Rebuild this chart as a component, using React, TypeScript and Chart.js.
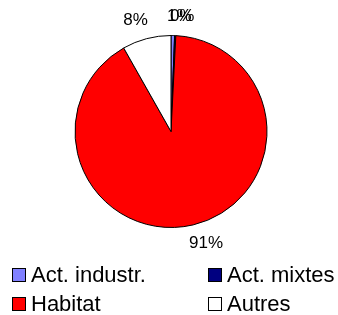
import React, { useEffect, useRef } from "react";
import { Chart, registerables } from "chart.js";

Chart.register(...registerables);

const categories = ["Act. industr.", "Act. mixtes", "Habitat", "Autres"];
const values = [0.6, 0.2, 91.0, 8.2];
const colors = ["#8080FF", "#000080", "#FF0000", "#FFFFFF"];

const labelPlugin = {
  id: "pctLabels",
  afterDatasetsDraw(chart: any) {
    const meta = chart.getDatasetMeta(0);
    const data = chart.data.datasets[0].data as number[];
    const total = data.reduce((a, b) => a + b, 0);
    const ctx = chart.ctx;
    ctx.save();
    ctx.font = "17px 'Liberation Sans', Arial, sans-serif";
    ctx.fillStyle = "#000";
    ctx.textAlign = "center";
    ctx.textBaseline = "middle";
    meta.data.forEach((arc: any, i: number) => {
      const p = arc.getProps(["x", "y", "startAngle", "endAngle", "outerRadius"], true);
      const mid = (p.startAngle + p.endAngle) / 2;
      const txt = Math.round((data[i] / total) * 100) + "%";
      const w = ctx.measureText(txt).width;
      const r = p.outerRadius + 19;
      const c = Math.cos(mid);
      const px = p.x + c * r + Math.sign(c) * w / 4;
      const py = p.y + Math.sin(mid) * r;
      ctx.fillText(txt, px, py);
    });
    ctx.restore();
  },
};

export default function App() {
  const ref = useRef<HTMLCanvasElement>(null);
  useEffect(() => {
    if (!ref.current) return;
    const chart = new Chart(ref.current, {
      type: "pie",
      data: {
        labels: categories,
        datasets: [
          {
            data: values,
            backgroundColor: colors,
            borderColor: "#000",
            borderWidth: 1,
            radius: 96,
          } as any,
        ],
      },
      options: {
        animation: false,
        responsive: false,
        layout: { padding: { left: 4, right: 0, top: 30, bottom: 82 } },
        plugins: { legend: { display: false }, tooltip: { enabled: false } },
      },
      plugins: [labelPlugin],
    });
    return () => chart.destroy();
  }, []);

  const legendPos = [
    { left: 12, top: 263 },
    { left: 208, top: 263 },
    { left: 12, top: 292 },
    { left: 208, top: 292 },
  ];

  return (
    <div style={{ position: "fixed", left: 0, top: 0, width: 338, height: 315, background: "#fff" }}>
      <canvas ref={ref} width={338} height={315} style={{ width: 338, height: 315, display: "block" }} />
      {categories.map((c, i) => (
        <div
          key={c}
          style={{
            position: "absolute",
            left: legendPos[i].left,
            top: legendPos[i].top,
            height: 24,
            display: "flex",
            alignItems: "center",
            fontFamily: "'Liberation Sans', Arial, sans-serif",
            fontSize: 22,
            color: "#000",
            whiteSpace: "nowrap",
          }}
        >
          <span
            style={{
              display: "inline-block",
              width: 12,
              height: 12,
              border: "1px solid #000",
              background: colors[i],
              marginRight: 5,
            }}
          />
          <span>{c}</span>
        </div>
      ))}
    </div>
  );
}
